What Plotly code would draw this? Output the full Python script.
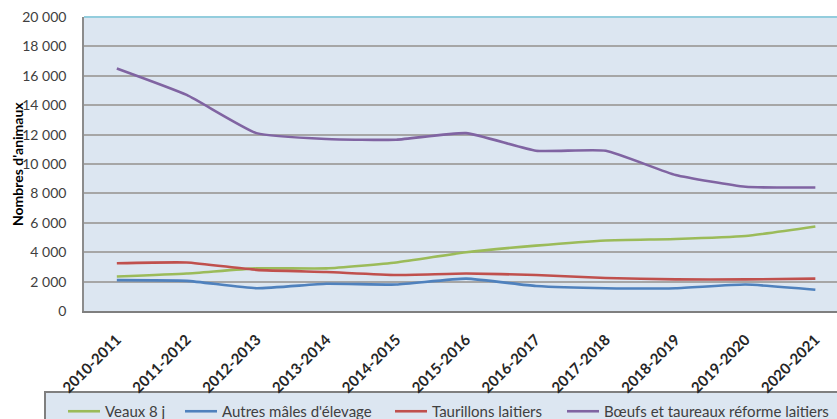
import plotly.graph_objects as go

# Campaign years on the category axis
campagnes = ["2010-2011", "2011-2012", "2012-2013", "2013-2014", "2014-2015",
             "2015-2016", "2016-2017", "2017-2018", "2018-2019", "2019-2020",
             "2020-2021"]

# Number of animals per category
veaux_8j = [2350, 2550, 2900, 2900, 3300, 4000, 4450, 4800, 4900, 5100, 5750]
autres_males = [2100, 2050, 1550, 1850, 1800, 2200, 1700, 1550, 1550, 1800, 1450]
taurillons = [3250, 3300, 2800, 2650, 2450, 2550, 2450, 2250, 2150, 2150, 2200]
boeufs_reforme = [16500, 14700, 12100, 11700, 11650, 12100, 10900, 10900, 9250, 8450, 8400]

y_ticks = [0, 2000, 4000, 6000, 8000, 10000, 12000, 14000, 16000, 18000, 20000]

series = [
    ("Veaux 8 j", veaux_8j, "#9bbb59"),
    ("Autres mâles d'élevage", autres_males, "#4f81bd"),
    ("Taurillons laitiers", taurillons, "#c0504d"),
    ("Bœufs et taureaux réforme laitiers", boeufs_reforme, "#8064a2"),
]

W, H = 837, 419
m_l, m_r, m_t, m_b = 84, 0, 17, 108
plot_w = W - m_l - m_r
plot_h = H - m_t - m_b


def px_x(px):
    """Horizontal pixel position -> paper coordinate."""
    return (px - m_l) / plot_w


def px_y(px):
    """Vertical pixel position -> paper coordinate."""
    return (H - m_b - px) / plot_h


# one legend per series so each entry sits at its own place in the key strip
legend_left = [63, 180, 390, 562]
legend_ids = ["legend", "legend2", "legend3", "legend4"]

fig = go.Figure()
for (name, values, color), lid in zip(series, legend_ids):
    fig.add_trace(go.Scatter(
        x=list(range(len(campagnes))), y=values, name=name, mode="lines",
        line=dict(color=color, width=2.6, shape="spline", smoothing=0.45),
        legend=lid,
    ))

legend_style = dict(
    orientation="h", xanchor="left", yanchor="top", y=px_y(395),
    bgcolor="rgba(0,0,0,0)", borderwidth=0,
    font=dict(size=15, color="#404040", family="Lato, sans-serif"),
    itemwidth=32,
)
legends = {lid: dict(legend_style, x=px_x(left))
           for lid, left in zip(legend_ids, legend_left)}

fig.update_layout(
    width=W, height=H,
    margin=dict(l=m_l, r=m_r, t=m_t, b=m_b, autoexpand=False),
    paper_bgcolor="white",
    plot_bgcolor="#dce6f1",
    separators=", ",
    font=dict(family="Lato, 'Open Sans', sans-serif", color="#404040"),
    showlegend=True,
    xaxis=dict(
        tickmode="array",
        tickvals=list(range(len(campagnes))),
        ticktext=campagnes,
        range=[-0.47, 10.31],
        tickangle=-45,
        tickfont=dict(size=15, color="#262626", family="Lato, sans-serif",
                      weight="bold"),
        showgrid=False, zeroline=False,
        showline=True, linecolor="#7f7f7f", linewidth=2,
        ticks="outside", ticklen=12, tickcolor="rgba(0,0,0,0)",
    ),
    yaxis=dict(
        range=[0, 20000],
        tickmode="array", tickvals=y_ticks,
        tickformat=",d",
        tickfont=dict(size=14, color="#404040"),
        showgrid=True, gridcolor="#a6a6a6", gridwidth=1.5,
        zeroline=False,
        showline=True, linecolor="#8c8c8c", linewidth=1.5,
        ticks="outside", ticklen=13, tickcolor="rgba(0,0,0,0)",
    ),
    **legends,
)

# frame of the key strip under the chart
fig.add_shape(type="rect", xref="paper", yref="paper",
              x0=px_x(45), x1=px_x(W + 20), y0=px_y(392), y1=px_y(H + 20),
              fillcolor="#dce6f1", line=dict(color="#7f7f7f", width=2),
              layer="below")

# top border of the plotting area
fig.add_shape(type="line", xref="paper", yref="paper", x0=0, x1=1, y0=1, y1=1,
              line=dict(color="#93cddd", width=2))

# vertical axis title
fig.add_annotation(
    text="<b>Nombres d'animaux</b>", xref="paper", yref="paper",
    x=px_x(17), y=0.5, xanchor="center", yanchor="middle",
    textangle=-90, showarrow=False,
    font=dict(size=14, color="#000000", family="Lato, sans-serif"),
)

fig.write_html("out.html")
